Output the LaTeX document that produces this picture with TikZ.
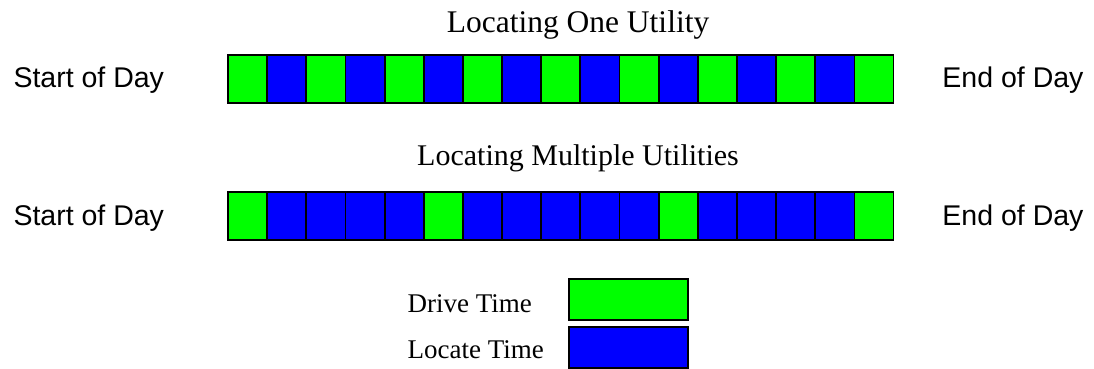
\documentclass[tikz,border=0pt]{standalone}
\usepackage{fontspec}
\setmainfont{Liberation Serif}
\newfontfamily\arialfont{Liberation Sans}
\definecolor{drive}{RGB}{0,255,0}
\definecolor{locate}{RGB}{0,0,255}
\begin{document}
\begin{tikzpicture}[x=1pt,y=-1pt,
   slot/.style={draw=black,line width=1.8pt,minimum width=39.15pt,minimum height=48pt,
                inner sep=0pt,outer sep=0pt,anchor=north west},
   daylabel/.style={font=\arialfont\fontsize{28.5}{34}\selectfont},
   keylabel/.style={font=\fontsize{27}{32}\selectfont,anchor=base west}]
   \useasboundingbox (0,0) rectangle (1094,369);

   % one utility
   \node [anchor=base,font=\fontsize{31.5}{38}\selectfont] (titleone) at (578,33) {Locating One Utility};
   \foreach \i in {1,...,17} {
      \ifodd\i \def\c{drive}\else \def\c{locate}\fi
      \node [slot,fill=\c] (one\i) at ({228+(\i-1)*39.15},55) {};
   }
   \node [daylabel,anchor=base west] (startone) at (10,88) {Start of Day};
   \node [daylabel,anchor=base east] (endone) at (1087,88) {End of Day};

   % multiple utilities
   \node [anchor=base,font=\fontsize{30}{36}\selectfont] (titlemulti) at (578,165) {Locating Multiple Utilities};
   \foreach \i/\c in {1/drive,2/locate,3/locate,4/locate,5/locate,6/drive,7/locate,8/locate,9/locate,
                      10/locate,11/locate,12/drive,13/locate,14/locate,15/locate,16/locate,17/drive}
      \node [slot,fill=\c] (multi\i) at ({228+(\i-1)*39.15},192) {};
   \node [daylabel,anchor=base west] (startmulti) at (10,225) {Start of Day};
   \node [daylabel,anchor=base east] (endmulti) at (1087,225) {End of Day};

   % legend
   \node [slot,fill=drive,minimum width=119pt,minimum height=41pt] (drivekey) at (569,279) {};
   \node [slot,fill=locate,minimum width=119pt,minimum height=41pt] (locatekey) at (569,327) {};
   \node [keylabel] (drivetext) at (404,312) {Drive Time};
   \node [keylabel] (locatetext) at (404,358) {Locate Time};

\end{tikzpicture}
\end{document}
